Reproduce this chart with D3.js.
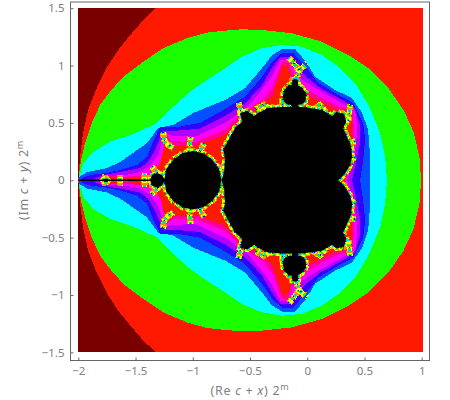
<!DOCTYPE html>
<html><head><meta charset="utf-8">
<style>html,body{margin:0;padding:0;background:#fff}svg{display:block}text{font-family:"Noto Sans",sans-serif;fill:#808080}</style>
<script src="https://cdn.jsdelivr.net/npm/d3@7/dist/d3.min.js"></script>
</head><body><svg id="c" width="450" height="400"></svg>
<script>
// All band outlines are [Re, Im] values (upper half; the lower half is its reflection).
const xTicks = [-2, -1.5, -1, -0.5, 0, 0.5, 1];
const yTicks = [-1.5, -1, -0.5, 0, 0.5, 1, 1.5];
const plane = [[-2, 1.5], [1.015, 1.5], [1.015, 0], [-2, 0]];
const darkBand = [[-2,1.5],[-1.323,1.5],[-1.434,1.395],[-1.548,1.264],[-1.653,1.134],[-1.749,.986],[-1.837,.81],[-1.915,.61],[-1.959,.41],[-1.985,.2],[-2,0]];
const greenBand = [[-1.996,.03],[-1.976,.177],[-1.941,.323],[-1.883,.497],[-1.81,.656],[-1.723,.772],[-1.607,.903],[-1.432,1.034],[-1.257,1.151],[-1.052,1.238],[-.878,1.287],[-.718,1.304],[-.572,1.316],[-.397,1.31],[-.135,1.282],[.128,1.208],[.36,1.092],[.535,.976],[.71,.802],[.841,.613],[.928,.424],[.98,.206],[.995,0]];
const cyanBand = [[-1.991,.03],[-1.956,.148],[-1.869,.249],[-1.723,.337],[-1.519,.404],[-1.315,.497],[-1.17,.642],[-1.024,.772],[-.878,.874],[-.718,.976],[-.572,1.078],[-.397,1.151],[-.222,1.18],[-.047,1.165],[.128,1.092],[.273,.99],[.419,.846],[.535,.656],[.637,.41],[.681,.206],[.696,0]];
const blueBand = [[-1.993,.03],[-1.924,.072],[-1.749,.107],[-1.635,.16],[-1.522,.238],[-1.399,.325],[-1.303,.456],[-1.172,.482],[-.997,.587],[-.718,.7],[-.543,.804],[-.394,.979],[-.307,1.092],[-.219,1.145],[-.106,1.145],[-.001,1.023],[.069,.901],[.244,.787],[.392,.717],[.48,.587],[.532,.439],[.55,.203],[.55,0]];
const indigoBand = [[-1.967,.02],[-1.898,.046],[-1.749,.064],[-1.635,.09],[-1.487,.133],[-1.399,.203],[-1.347,.334],[-1.286,.465],[-1.137,.465],[-.936,.5],[-.718,.62],[-.543,.73],[-.394,.901],[-.307,1.031],[-.219,1.11],[-.123,1.11],[.008,.962],[.095,.849],[.27,.744],[.401,.674],[.489,.5],[.506,.351],[.489,.177],[.462,0]];
const purpleBand = [[-1.854,.015],[-1.784,.046],[-1.635,.072],[-1.461,.107],[-1.391,.16],[-1.33,.264],[-1.26,.43],[-1.172,.43],[-.936,.45],[-.718,.56],[-.543,.67],[-.394,.831],[-.307,.979],[-.237,1.075],[-.141,1.075],[-.027,.918],[.113,.805],[.289,.709],[.411,.639],[.462,.482],[.462,.334],[.427,.16],[.392,0]];
const magentaBand = [[-1.81,.01],[-1.74,.037],[-1.592,.046],[-1.461,.072],[-1.373,.125],[-1.303,.221],[-1.242,.412],[-1.181,.39],[-.98,.38],[-.718,.5],[-.543,.62],[-.411,.77],[-.307,.91],[-.237,1.049],[-.158,1.049],[-.045,.874],[.13,.769],[.305,.674],[.419,.613],[.436,.456],[.427,.308],[.392,.133],[.349,0]];
const pinkBand = [[-1.772,.02],[-1.73,.037],[-1.592,.03],[-1.417,.046],[-1.33,.09],[-1.269,.177],[-1.233,.386],[-1.181,.34],[-.98,.335],[-.718,.44],[-.586,.57],[-.394,.7],[-.307,.805],[-.219,1.031],[-.167,1.031],[-.08,.831],[.13,.717],[.287,.639],[.392,.63],[.409,.439],[.409,.29],[.375,.116],[.331,0]];
const redBand = [[-1.76,.03],[-1.6,.015],[-1.4,.03],[-1.33,.07],[-1.28,.16],[-1.235,.37],[-1.185,.3],[-.98,.3],[-.73,.39],[-.6,.52],[-.41,.64],[-.3,.74],[-.215,1],[-.175,1],[-.1,.79],[.13,.68],[.28,.6],[.385,.6],[.395,.43],[.395,.28],[.36,.1],[.33,0]];
const bandColors = ["#ff1900", "#7a0000", "#19ff00", "#00ffff", "#0050ff", "#3300ff", "#b000ff", "#ff00ff", "#ff0090", "#ff1900"];
const cardioid = [[-.748,0],[-.726,.072],[-.718,.203],[-.735,.264],[-.674,.378],[-.63,.456],[-.569,.508],[-.586,.587],[-.525,.604],[-.464,.561],[-.429,.587],[-.342,.63],[-.219,.639],[-.045,.639],[.13,.613],[.218,.561],[.253,.595],[.323,.578],[.34,.508],[.314,.456],[.349,.378],[.384,.299],[.392,.203],[.375,.133],[.322,.046],[.27,0]];
const leftDisc = [[-1.25,0],[-1.23,.1],[-1.17,.18],[-1.09,.235],[-1,.255],[-.91,.235],[-.83,.18],[-.77,.1],[-.75,0]];
const smallDisc = [[-1.373,0],[-1.356,.046],[-1.312,.064],[-1.269,.046],[-1.242,0]];
const tinyDisc = [[-1.785,0],[-1.77,.015],[-1.75,.015],[-1.735,0]];
const topBulb = [[-.215,0],[-.215,.72],[-.2,.79],[-.16,.83],[-.1,.835],[-.05,.81],[-.01,.76],[-.015,.69],[-.05,.66],[-.11,.655],[-.17,.66],[-.2,.68],[-.215,.72]];
const topBud = [[-.135,.84],[-.13,.875],[-.105,.885],[-.08,.875],[-.08,.84]];
const spines = [
  [[-.11,.84],[-.07,.96],[0,1.02]], [[-.07,.96],[-.16,1.07]],
  [[-1.26,.42],[-1.245,.33],[-1.17,.28]], [[-1.02,.38],[-1.03,.26]], [[-.9,.32],[-.94,.25]],
  [[.375,.66],[.36,.52]], [[-.6,.68],[-.58,.6]], [[-.45,.62],[-.38,.66],[-.32,.62]],
  [[.06,.62],[.11,.66],[.16,.6]], [[-1.36,.12],[-1.3,.06]], [[.42,.2],[.34,.17]], [[.42,.34],[.34,.32]],
  [[-1.635,0],[-1.635,.05]], [[-1.42,0],[-1.42,.06]], [[-1.78,0],[-1.76,.045]]
];
const antenna = [[-2, 0], [-1.37, 0]];
const xName = ["(Re ", "c", " + ", "x", ") 2"];
const yName = ["(Im ", "c", " + ", "y", ") 2"];

const x = d3.scaleLinear().domain([-2, 1]).range([78.3, 421.7]);
const y = d3.scaleLinear().domain([-1.5, 1.5]).range([352.4, 8.2]);
const svg = d3.select("#c");
const line = d3.line().x(d => x(d[0])).y(d => y(d[1]));
const whole = a => a.concat(a.slice().reverse().map(d => [d[0], -d[1]]));
const outline = a => line(whole(a)) + "Z";

svg.append("g").attr("shape-rendering", "crispEdges")
  .selectAll("path")
  .data([plane, darkBand, greenBand, cyanBand, blueBand, indigoBand, purpleBand, magentaBand, pinkBand, redBand])
  .join("path").attr("d", outline).attr("fill", (d, i) => bandColors[i]);

const spineLines = spines.flatMap(s => [s, s.map(d => [d[0], -d[1]])]);
const setShapes = [cardioid, leftDisc, smallDisc, tinyDisc, topBulb, topBud];
[["#ff8c00", 6.5, "5 3 2 2"], ["#ffff00", 5, "3 2 4 3"], ["#19ff00", 3.4, "2 3 3 2"], ["#00c8ff", 2.2, "1 4 2 3"], ["#3300ff", 1.4, "1 7"]].forEach(([col, w, dash]) => {
  svg.append("g").attr("fill", "none").attr("stroke", col).attr("stroke-width", w).attr("stroke-dasharray", dash)
    .attr("shape-rendering", "crispEdges")
    .selectAll("path").data(setShapes.map(outline).concat(spineLines.map(s => line(s))))
    .join("path").attr("d", d => d);
});
svg.append("g").attr("fill", "#000").selectAll("path").data(setShapes).join("path").attr("d", outline);
svg.append("path").attr("d", line(antenna)).attr("stroke", "#000").attr("stroke-width", 1.5).attr("fill", "none");

svg.append("rect").attr("x", 70.5).attr("y", 2).attr("width", 359).attr("height", 358.5).attr("fill", "none").attr("stroke", "#666");
const fmt = d => String(d).replace("-", "\u2212");
const ax = d3.axisBottom(x).tickValues(xTicks).tickFormat(fmt).tickSize(-3).tickPadding(6);
const ay = d3.axisLeft(y).tickValues(yTicks).tickFormat(fmt).tickSize(-3).tickPadding(6);
const gx = svg.append("g").attr("transform", "translate(0,360.5)").call(ax);
const gy = svg.append("g").attr("transform", "translate(70.5,0)").call(ay);
[gx, gy].forEach(g => {
  g.select(".domain").remove();
  g.selectAll("line").attr("stroke", "#666");
  g.selectAll("text").attr("font-size", 11.5).style("font-family", '"Noto Sans",sans-serif').attr("fill", "#808080");
});
function label(parts, tx, ty, rot) {
  const t = svg.append("text").attr("font-size", 12.5).attr("letter-spacing", 0.7).attr("text-anchor", "middle")
    .attr("transform", `translate(${tx},${ty}) rotate(${rot})`);
  parts.forEach((p, i) => t.append("tspan").text(p).attr("font-style", i % 2 ? "italic" : "normal"));
  t.append("tspan").text("m").attr("font-size", 9).attr("dy", -5);
}
label(xName, 250, 395, 0);
label(yName, 28, 180, -90);
</script></body></html>
